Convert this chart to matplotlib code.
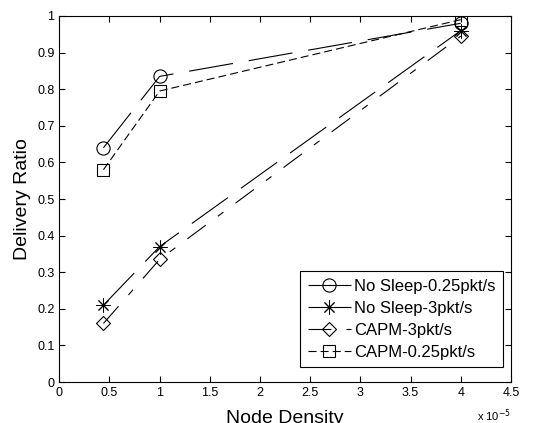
import matplotlib
matplotlib.use('Agg')
import matplotlib.pyplot as plt

plt.rcParams['font.family'] = ['Liberation Sans', 'DejaVu Sans']
plt.rcParams['lines.scale_dashes'] = False

# node density in units of 1e-5
density = [0.44, 1.0, 4.0]

nosleep_025 = [0.64, 0.835, 0.98]
nosleep_3 = [0.21, 0.37, 0.96]
capm_3 = [0.16, 0.335, 0.945]
capm_025 = [0.58, 0.795, 0.99]

labels = ['No Sleep-0.25pkt/s', 'No Sleep-3pkt/s', 'CAPM-3pkt/s', 'CAPM-0.25pkt/s']

fig = plt.figure(figsize=(5.35, 4.23), dpi=100)
ax = fig.add_axes([0.1108, 0.0969, 0.8442, 0.8653])

lw = 0.8
ax.plot(density, nosleep_025, color='k', lw=lw, linestyle=(0, (32, 11.5)),
        marker='o', ms=9.5, mfc='none', mec='k', mew=0.8, label=labels[0])
ax.plot(density, nosleep_3, color='k', lw=lw, linestyle=(0, (32, 11.5)),
        marker=(8, 2, 0), ms=10, mec='k', mew=0.7, label=labels[1])
ax.plot(density, capm_3, color='k', lw=lw, linestyle=(0, (16.5, 10.8, 5, 10.8)),
        marker='D', ms=7.5, mfc='none', mec='k', mew=0.8, label=labels[2])
ax.plot(density, capm_025, color='k', lw=lw, linestyle=(0, (5.8, 2.9)),
        marker='s', ms=8, mfc='none', mec='k', mew=0.8, label=labels[3])

ax.set_xlim(0, 4.5)
ax.set_ylim(0, 1)
ax.set_xticks([0, 0.5, 1, 1.5, 2, 2.5, 3, 3.5, 4, 4.5])
ax.set_xticklabels(['0', '0.5', '1', '1.5', '2', '2.5', '3', '3.5', '4', '4.5'])
ax.set_yticks([i / 10 for i in range(11)])
ax.set_yticklabels(['0', '0.1', '0.2', '0.3', '0.4', '0.5', '0.6', '0.7', '0.8', '0.9', '1'])
ax.tick_params(direction='in', top=True, right=True, length=4, labelsize=9, width=0.8)
for s in ax.spines.values():
    s.set_linewidth(0.8)

ax.set_xlabel('Node Density', fontsize=14, labelpad=8)
ax.set_ylabel('Delivery Ratio', fontsize=14, labelpad=4)
ax.text(1.0, -0.068, r'x 10$^{-5}$', transform=ax.transAxes, fontsize=8, ha='right', va='top')

leg = ax.legend(loc='lower right', bbox_to_anchor=(0.983, 0.04), fontsize=12,
                frameon=True, fancybox=False, edgecolor='k', framealpha=1,
                labelspacing=0.42, handlelength=2.6, handletextpad=0.2,
                borderpad=0.45, borderaxespad=0)
leg.get_frame().set_linewidth(0.8)

plt.savefig('out.png', dpi=100)
